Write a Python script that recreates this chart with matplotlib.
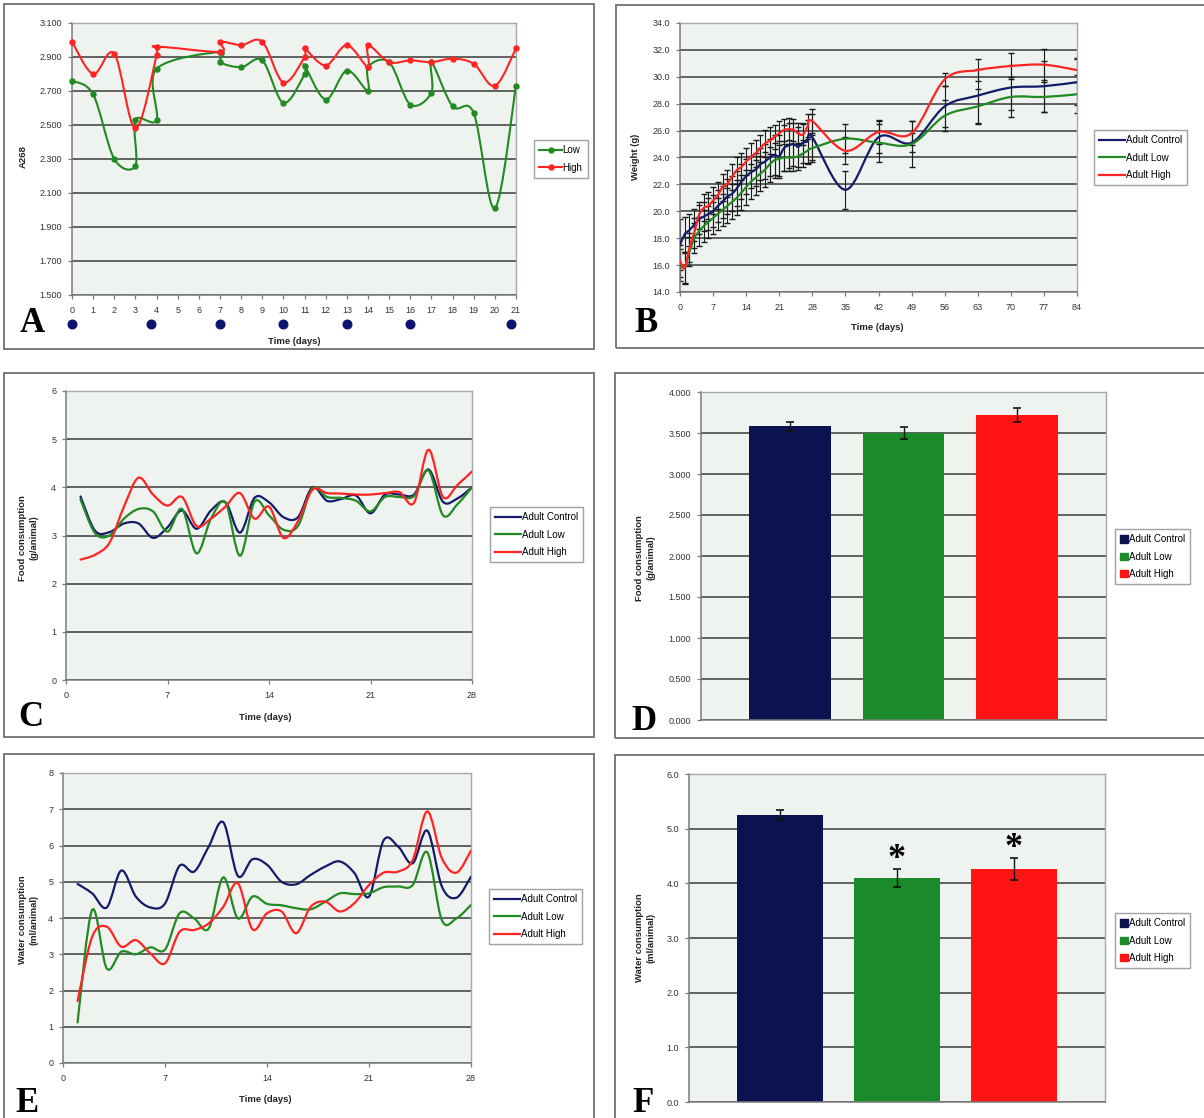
import numpy as np
import matplotlib
matplotlib.use("Agg")
import matplotlib.pyplot as plt
from matplotlib.path import Path
from matplotlib.patches import PathPatch, Rectangle, Patch
from matplotlib.lines import Line2D
from matplotlib.ticker import FormatStrFormatter

plt.rcParams['font.family'] = ['Liberation Sans', 'DejaVu Sans']

# ---------------- data ----------------
# A: absorbance at 268 nm (repeat readings on the same day are before/after dosing)
a_low_days = [0, 1, 2, 3, 3, 4, 4, 7, 7, 8, 9, 10, 11, 11, 12, 13, 14, 14, 15, 16, 17, 17, 18, 19, 20, 21]
a_low_vals = [2.76, 2.68, 2.30, 2.26, 2.53, 2.53, 2.83, 2.93, 2.87, 2.84, 2.88, 2.63, 2.80, 2.85, 2.65,
              2.82, 2.70, 2.84, 2.87, 2.62, 2.69, 2.87, 2.61, 2.57, 2.01, 2.73]
a_high_days = [0, 1, 2, 3, 4, 4, 7, 7, 8, 9, 10, 11, 11, 12, 13, 14, 14, 15, 16, 17, 18, 19, 20, 21]
a_high_vals = [2.99, 2.80, 2.92, 2.48, 2.91, 2.96, 2.93, 2.99, 2.97, 2.99, 2.75, 2.90, 2.95, 2.85,
               2.97, 2.84, 2.97, 2.87, 2.88, 2.87, 2.89, 2.86, 2.73, 2.95]
dose_days = [0, 3.75, 7, 10, 13, 16, 20.75]

# B: body weight (g)
b_days = list(range(0, 29)) + [35, 42, 49, 56, 63, 70, 77, 84]
b_ctrl = [17.5, 18.3, 18.6, 19.0, 19.4, 19.6, 19.8, 20.0, 20.4, 20.7, 21.1, 21.3, 21.7, 22.2, 22.6,
          22.9, 23.1, 23.5, 23.7, 24.0, 24.2, 24.1, 24.7, 24.9, 25.0, 24.8, 25.1, 25.2, 25.5,
          21.6, 25.5, 25.1, 27.8, 28.6, 29.2, 29.3, 29.6]
b_low = [16.0, 15.8, 17.0, 18.0, 18.5, 18.9, 19.2, 19.5, 19.8, 20.1, 20.4, 20.7, 21.0, 21.4, 21.8,
         22.2, 22.5, 22.8, 23.1, 23.5, 23.8, 23.9, 24.0, 24.0, 24.0, 24.1, 24.3, 24.5, 24.7,
         25.4, 25.1, 25.0, 27.1, 27.8, 28.5, 28.5, 28.7]
b_high = [16.3, 15.8, 17.3, 18.4, 19.7, 20.25, 20.4, 20.8, 21.2, 21.8, 22.05, 22.55, 23.05, 23.3, 23.7,
          24.05, 24.3, 24.7, 25.05, 25.25, 25.55, 25.8, 26.05, 26.1, 26.05, 25.8, 25.7, 26.3, 26.7,
          24.5, 25.9, 25.8, 29.8, 30.5, 30.8, 30.9, 30.5]
b_ctrl_err = [1.9, 1.3, 1.2, 1.2, 1.1, 1.1, 1.2, 1.2, 1.2, 1.2, 1.3, 1.3, 1.3, 1.3, 1.3,
              1.2, 1.2, 1.2, 1.3, 1.4, 1.5, 1.6, 1.7, 1.7, 1.6, 1.5, 1.5, 1.6, 1.7,
              1.4, 1.2, 0.7, 1.5, 2.0, 1.7, 1.9, 1.7]
b_low_err = [1.2, 1.2, 1.1, 1.1, 1.1, 1.2, 1.2, 1.2, 1.2, 1.2, 1.3, 1.3, 1.3, 1.3, 1.3,
             1.3, 1.3, 1.3, 1.3, 1.3, 1.3, 1.3, 1.0, 1.0, 1.0, 1.0, 1.0, 1.0, 1.0,
             1.1, 1.4, 1.7, 1.15, 1.3, 1.5, 1.1, 1.4]
b_high_err = [1.2, 1.1, 1.1, 1.1, 1.0, 1.0, 1.0, 1.0, 1.0, 1.0, 1.0, 1.0, 1.0, 1.0, 1.0,
              1.0, 1.0, 1.0, 1.0, 1.0, 0.9, 0.9, 0.8, 0.8, 0.8, 0.8, 0.8, 0.9, 0.9,
              1.0, 0.9, 0.9, 0.5, 0.8, 1.0, 1.15, 0.9]

# C: daily food consumption (g/animal)
c_days = list(range(1, 29))
c_ctrl = [3.81, 3.10, 3.07, 3.25, 3.25, 2.95, 3.17, 3.52, 3.14, 3.52, 3.69, 3.06, 3.78, 3.69,
          3.38, 3.38, 4.00, 3.72, 3.76, 3.83, 3.46, 3.85, 3.85, 3.85, 4.37, 3.70, 3.77, 4.00]
c_low = [3.75, 3.05, 3.00, 3.35, 3.55, 3.50, 3.08, 3.55, 2.63, 3.35, 3.68, 2.58, 3.70, 3.42,
         3.12, 3.20, 3.98, 3.80, 3.78, 3.72, 3.50, 3.80, 3.80, 3.82, 4.35, 3.42, 3.65, 4.00]
c_high = [2.50, 2.60, 2.85, 3.60, 4.20, 3.85, 3.62, 3.80, 3.20, 3.35, 3.60, 3.88, 3.35, 3.60,
          2.95, 3.30, 3.95, 3.88, 3.87, 3.85, 3.85, 3.88, 3.90, 3.68, 4.78, 3.80, 4.05, 4.33]

# D: mean food consumption
groups = ["Adult Control", "Adult Low", "Adult High"]
d_means = [3.585, 3.500, 3.720]
d_err = [0.055, 0.075, 0.085]

# E: daily water consumption (ml/animal)
e_days = list(range(1, 29))
e_ctrl = [4.94, 4.68, 4.29, 5.31, 4.59, 4.29, 4.40, 5.44, 5.28, 5.97, 6.64, 5.16, 5.62, 5.47,
          5.00, 4.93, 5.19, 5.42, 5.56, 5.24, 4.59, 6.14, 5.97, 5.51, 6.41, 4.87, 4.56, 5.14]
e_low = [1.12, 4.22, 2.61, 3.07, 3.00, 3.19, 3.13, 4.13, 3.99, 3.71, 5.12, 3.99, 4.59, 4.39,
         4.35, 4.27, 4.24, 4.45, 4.68, 4.66, 4.68, 4.85, 4.87, 4.91, 5.81, 3.94, 3.99, 4.36]
e_high = [1.71, 3.48, 3.76, 3.21, 3.39, 3.02, 2.75, 3.62, 3.67, 3.85, 4.31, 4.96, 3.69, 4.13,
          4.18, 3.58, 4.31, 4.45, 4.18, 4.41, 4.91, 5.25, 5.28, 5.60, 6.94, 5.65, 5.25, 5.86]

# F: mean water consumption
f_means = [5.25, 4.10, 4.26]
f_err = [0.10, 0.16, 0.20]
f_signif = [False, True, True]

# ---------------- styling ----------------
NAVY = '#141c6a'
GREEN = '#228a22'
RED = '#ff2424'
BAR_COLORS = ['#0b1250', '#1a8a2a', '#ff1414']
PLOT_BG = '#eef3f0'
GRID = '#555555'

W, H = 1204, 1118
fig = plt.figure(figsize=(W / 100, H / 100), dpi=100)
fig.patch.set_facecolor('white')


def px_axes(x0, y0, x1, y1):
    return fig.add_axes([x0 / W, 1 - y1 / H, (x1 - x0) / W, (y1 - y0) / H])


def frame(x0, y0, x1, y1):
    fig.add_artist(Rectangle((x0 / W, 1 - y1 / H), (x1 - x0) / W, (y1 - y0) / H,
                             transform=fig.transFigure, fill=False, ec='#707070', lw=1.3))


def fig_text(x, y, s, **kw):
    fig.text(x / W, 1 - y / H, s, **kw)


def smooth(ax, x, y, color, lw=1.6, zorder=3):
    """Catmull-Rom spline through the points, drawn as cubic Bezier segments."""
    pts = np.column_stack([np.asarray(x, float), np.asarray(y, float)])
    verts = [pts[0]]
    codes = [Path.MOVETO]
    n = len(pts)
    for i in range(n - 1):
        p0 = pts[i - 1] if i > 0 else pts[i]
        p1, p2 = pts[i], pts[i + 1]
        p3 = pts[i + 2] if i + 2 < n else pts[i + 1]
        verts += [p1 + (p2 - p0) / 6.0, p2 - (p3 - p1) / 6.0, p2]
        codes += [Path.CURVE4] * 3
    ax.add_patch(PathPatch(Path(verts, codes), fill=False, ec=color, lw=lw, zorder=zorder,
                           capstyle='round', joinstyle='round'))


def style_axes(ax):
    ax.set_facecolor(PLOT_BG)
    ax.grid(axis='y', color=GRID, lw=1.3, zorder=1)
    ax.set_axisbelow(True)
    for s in ['top', 'right']:
        ax.spines[s].set_color('#a8a8a8')
        ax.spines[s].set_linewidth(1.0)
    for s in ['left', 'bottom']:
        ax.spines[s].set_color('#7a7a7a')
        ax.spines[s].set_linewidth(1.1)
    ax.tick_params(axis='both', labelsize=6.5, colors='#7a7a7a', labelcolor='#333333',
                   length=3, width=0.9, direction='out')
    ax.tick_params(axis='x', pad=5)
    ax.tick_params(axis='y', pad=4)


def legend(ax, handles, labels, x, y, **kw):
    lg = ax.legend(handles, labels, loc='upper left', bbox_to_anchor=(x / W, 1 - y / H),
                   bbox_transform=fig.transFigure, fontsize=7, frameon=True, fancybox=False,
                   edgecolor='#8a8a8a', borderpad=0.55, labelspacing=0.75,
                   handletextpad=0.1, borderaxespad=0, **kw)
    lg.get_frame().set_linewidth(1.0)
    return lg


def letter(x, y, s):
    fig_text(x, y, s, fontsize=25, fontweight='bold', family=['Liberation Serif', 'DejaVu Serif'],
             ha='center', va='center')


lab_kw = dict(fontsize=6.8, fontweight='bold', ha='center', va='center', color='#222222')

# ---------------- frames ----------------
frame(4, 4, 594, 349)
frame(616, 5, 1212, 348)
frame(4, 373, 594, 737)
frame(615, 373, 1212, 738)
frame(4, 754, 594, 1130)
frame(615, 755, 1212, 1130)

# ---------------- A ----------------
ax = px_axes(72, 23, 516, 295)
style_axes(ax)
ax.set_xlim(0, 21)
ax.set_ylim(1.5, 3.1)
ax.set_yticks(np.arange(1.5, 3.101, 0.2))
ax.yaxis.set_major_formatter(FormatStrFormatter('%.3f'))
ax.set_xticks(range(0, 22))
for xs, ys, col in [(a_low_days, a_low_vals, GREEN), (a_high_days, a_high_vals, RED)]:
    smooth(ax, xs, ys, col, lw=1.5)
    ax.plot(xs, ys, 'o', color=col, ms=3.6, zorder=4, clip_on=False)
ax.plot(dose_days, [-0.107] * len(dose_days), 'o', color='#0c1470', ms=6.2,
        transform=ax.get_xaxis_transform(), clip_on=False)
legend(ax, [Line2D([], [], color=GREEN, lw=1.5, marker='o', ms=3.6),
            Line2D([], [], color=RED, lw=1.5, marker='o', ms=3.6)],
       ['Low', 'High'], 534, 140, handlelength=2.3)
fig_text(23, 157, 'A268', rotation=90, **lab_kw)
fig_text(294, 342, 'Time (days)', **lab_kw)
letter(32, 323, 'A')

# ---------------- B ----------------
ax = px_axes(680, 23, 1077, 292)
style_axes(ax)
ax.set_xlim(0, 84)
ax.set_ylim(14, 34)
ax.set_yticks(np.arange(14, 34.01, 2))
ax.yaxis.set_major_formatter(FormatStrFormatter('%.1f'))
ax.set_xticks(range(0, 85, 7))
for ys, es, col in [(b_ctrl, b_ctrl_err, NAVY), (b_low, b_low_err, GREEN), (b_high, b_high_err, RED)]:
    ax.errorbar(b_days, ys, yerr=es, fmt='none', ecolor='#1a1a1a', elinewidth=0.8,
                capsize=2.3, capthick=1.0, zorder=2)
for ys, col in [(b_ctrl, NAVY), (b_low, GREEN), (b_high, RED)]:
    smooth(ax, b_days, ys, col, lw=1.6)
legend(ax, [Line2D([], [], color=c, lw=1.6) for c in (NAVY, GREEN, RED)],
       groups, 1094, 130, handlelength=2.6)
fig_text(635, 157, 'Weight (g)', rotation=90, **lab_kw)
fig_text(877, 328, 'Time (days)', **lab_kw)
letter(646, 323, 'B')

# ---------------- C ----------------
ax = px_axes(66, 391, 472, 680)
style_axes(ax)
ax.set_xlim(0, 28)
ax.set_ylim(0, 6)
ax.set_yticks(range(0, 7))
ax.set_xticks(range(0, 29, 7))
for ys, col in [(c_ctrl, NAVY), (c_low, GREEN), (c_high, RED)]:
    smooth(ax, c_days, ys, col, lw=1.6)
legend(ax, [Line2D([], [], color=c, lw=1.6) for c in (NAVY, GREEN, RED)],
       groups, 490, 507, handlelength=2.6)
fig_text(28, 538, 'Food consumption\n(g/animal)', rotation=90, linespacing=1.3, **lab_kw)
fig_text(265, 718, 'Time (days)', **lab_kw)
letter(31, 718, 'C')

# ---------------- D ----------------
ax = px_axes(701, 392, 1106, 720)
style_axes(ax)
ax.set_xlim(-0.785, 2.785)
ax.set_ylim(0, 4)
ax.set_yticks(np.arange(0, 4.001, 0.5))
ax.yaxis.set_major_formatter(FormatStrFormatter('%.3f'))
ax.set_xticks([])
xpos = np.arange(len(groups))
ax.bar(xpos, d_means, width=0.72, color=BAR_COLORS, zorder=2)
ax.errorbar(xpos, d_means, yerr=d_err, fmt='none', ecolor='#111111', elinewidth=1.0,
            capsize=3, capthick=1.2, zorder=3)
legend(ax, [Patch(color=c) for c in BAR_COLORS], groups, 1115, 529,
       handlelength=0.75, handleheight=0.75)
fig_text(645, 558, 'Food consumption\n(g/animal)', rotation=90, linespacing=1.3, **lab_kw)
letter(644, 721, 'D')

# ---------------- E ----------------
ax = px_axes(63, 773, 471, 1063)
style_axes(ax)
ax.set_xlim(0, 28)
ax.set_ylim(0, 8)
ax.set_yticks(range(0, 9))
ax.set_xticks(range(0, 29, 7))
for ys, col in [(e_ctrl, NAVY), (e_low, GREEN), (e_high, RED)]:
    smooth(ax, e_days, ys, col, lw=1.6)
legend(ax, [Line2D([], [], color=c, lw=1.6) for c in (NAVY, GREEN, RED)],
       groups, 489, 889, handlelength=2.6)
fig_text(28, 920, 'Water consumption\n(ml/animal)', rotation=90, linespacing=1.3, **lab_kw)
fig_text(265, 1100, 'Time (days)', **lab_kw)
letter(27, 1103, 'E')

# ---------------- F ----------------
ax = px_axes(689, 774, 1105, 1102)
style_axes(ax)
ax.set_xlim(-0.78, 2.78)
ax.set_ylim(0, 6)
ax.set_yticks(range(0, 7))
ax.yaxis.set_major_formatter(FormatStrFormatter('%.1f'))
ax.set_xticks([])
ax.bar(xpos, f_means, width=0.73, color=BAR_COLORS, zorder=2)
ax.errorbar(xpos, f_means, yerr=f_err, fmt='none', ecolor='#111111', elinewidth=1.0,
            capsize=3, capthick=1.2, zorder=3)
for i, sig in enumerate(f_signif):
    if sig:
        ax.annotate('*', (xpos[i], f_means[i] + f_err[i]), xytext=(0, -5),
                    textcoords='offset points', ha='center', va='bottom', fontsize=26,
                    fontweight='bold', family=['Liberation Serif', 'DejaVu Serif'])
legend(ax, [Patch(color=c) for c in BAR_COLORS], groups, 1115, 913,
       handlelength=0.75, handleheight=0.75)
fig_text(645, 938, 'Water consumption\n(ml/animal)', rotation=90, linespacing=1.3, **lab_kw)
letter(643, 1103, 'F')

fig.savefig('out.png', dpi=100, facecolor='white')
